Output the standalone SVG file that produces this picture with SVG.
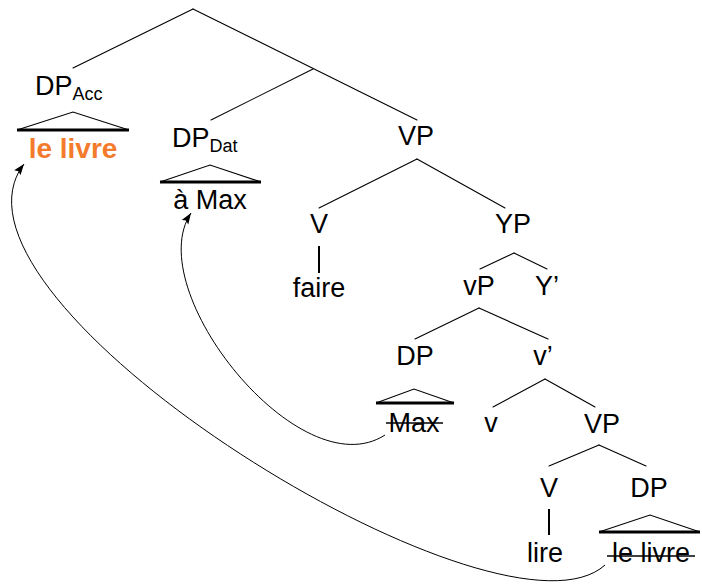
<svg xmlns="http://www.w3.org/2000/svg" width="702" height="585" viewBox="0 0 702 585">
  <style>
    .lbl { font-family: "Liberation Sans", Arial, sans-serif; font-size: 27px; fill: #000; }
    .mid { text-anchor: middle; }
    .sub { font-size: 18px; }
    .edge { stroke: #000; stroke-width: 1.1; fill: none; stroke-linecap: round; }
    .side { stroke: #000; stroke-width: 1.1; fill: none; }
    .base { stroke: #000; stroke-width: 3; }
    .stem { stroke: #000; stroke-width: 2; }
    .strike { stroke: #000; stroke-width: 1.6; }
    .move { stroke: #000; stroke-width: 1; fill: none; }
    .hl { font-weight: bold; fill: #F47B2C; font-size: 28px; }
  </style>
  <defs>
    <marker id="tip" markerUnits="userSpaceOnUse" markerWidth="12" markerHeight="10" refX="11" refY="4" orient="auto">
      <path d="M0,0 L11,4 L0,8 L2,4 z" fill="#000"/>
    </marker>
  </defs>

  <!-- tree branches -->
  <g id="branches">
    <line class="edge" x1="193" y1="9" x2="73" y2="68"/>
    <line class="edge" x1="193" y1="9" x2="417" y2="120"/>
    <line class="edge" x1="313" y1="69" x2="211" y2="120"/>
    <line class="edge" x1="417" y1="159" x2="319" y2="208"/>
    <line class="edge" x1="417" y1="159" x2="505" y2="208"/>
    <line class="edge" x1="514" y1="253" x2="480" y2="269"/>
    <line class="edge" x1="514" y1="253" x2="547" y2="269"/>
    <line class="edge" x1="479" y1="308" x2="415" y2="339"/>
    <line class="edge" x1="479" y1="308" x2="548" y2="339"/>
    <line class="edge" x1="545" y1="379" x2="493" y2="407"/>
    <line class="edge" x1="545" y1="379" x2="595" y2="407"/>
    <line class="edge" x1="599" y1="445" x2="549" y2="466"/>
    <line class="edge" x1="599" y1="445" x2="646" y2="466"/>
    <line class="stem" x1="319" y1="246" x2="319" y2="273"/>
    <line class="stem" x1="549" y1="509" x2="549" y2="535"/>
  </g>

  <!-- movement arrows -->
  <g id="arrows">
    <path class="move" d="M385,435 C300,490 140,290 191,213" marker-end="url(#tip)"/>
    <path class="move" d="M605,565 C500,660 -80,300 24,164" marker-end="url(#tip)"/>
  </g>

  <g id="dp-acc">
    <text class="lbl" x="35" y="95">DP<tspan class="sub" dy="5">Acc</tspan></text>
    <polyline class="side" points="17,130 73,112 129,130"/>
    <line class="base" x1="17" y1="130" x2="129" y2="130"/>
    <text class="lbl mid hl" x="73" y="158">le livre</text>
  </g>

  <g id="dp-dat">
    <text class="lbl" x="172" y="147">DP<tspan class="sub" dy="5">Dat</tspan></text>
    <polyline class="side" points="160,182 210,165 261,182"/>
    <line class="base" x1="160" y1="182" x2="261" y2="182"/>
    <text class="lbl mid" x="210" y="209">à Max</text>
  </g>

  <g id="vp-top"><text class="lbl mid" x="416" y="145">VP</text></g>
  <g id="v-faire">
    <text class="lbl mid" x="319" y="233">V</text>
    <text class="lbl mid" x="319" y="297">faire</text>
  </g>
  <g id="yp"><text class="lbl mid" x="513" y="233">YP</text></g>
  <g id="vp-small"><text class="lbl mid" x="479" y="295">vP</text></g>
  <g id="y-bar"><text class="lbl mid" x="547" y="295">Y’</text></g>

  <g id="dp-max">
    <text class="lbl mid" x="415" y="365">DP</text>
    <polyline class="side" points="376,403 414,389 454,403"/>
    <line class="base" x1="376" y1="403" x2="454" y2="403"/>
    <text class="lbl mid" x="414" y="432">Max</text>
    <line class="strike" x1="386" y1="423" x2="443" y2="423"/>
  </g>

  <g id="v-bar"><text class="lbl mid" x="543" y="365">v’</text></g>
  <g id="v-head"><text class="lbl mid" x="491" y="432">v</text></g>
  <g id="vp-low"><text class="lbl mid" x="602" y="433">VP</text></g>

  <g id="v-lire">
    <text class="lbl mid" x="549" y="497">V</text>
    <text class="lbl mid" x="545" y="562">lire</text>
  </g>

  <g id="dp-livre">
    <text class="lbl mid" x="649" y="497">DP</text>
    <polyline class="side" points="599,532 650,515 700,532"/>
    <line class="base" x1="599" y1="532" x2="700" y2="532"/>
    <text class="lbl mid" x="651" y="562">le livre</text>
    <line class="strike" x1="607" y1="556" x2="695" y2="556"/>
  </g>
</svg>
